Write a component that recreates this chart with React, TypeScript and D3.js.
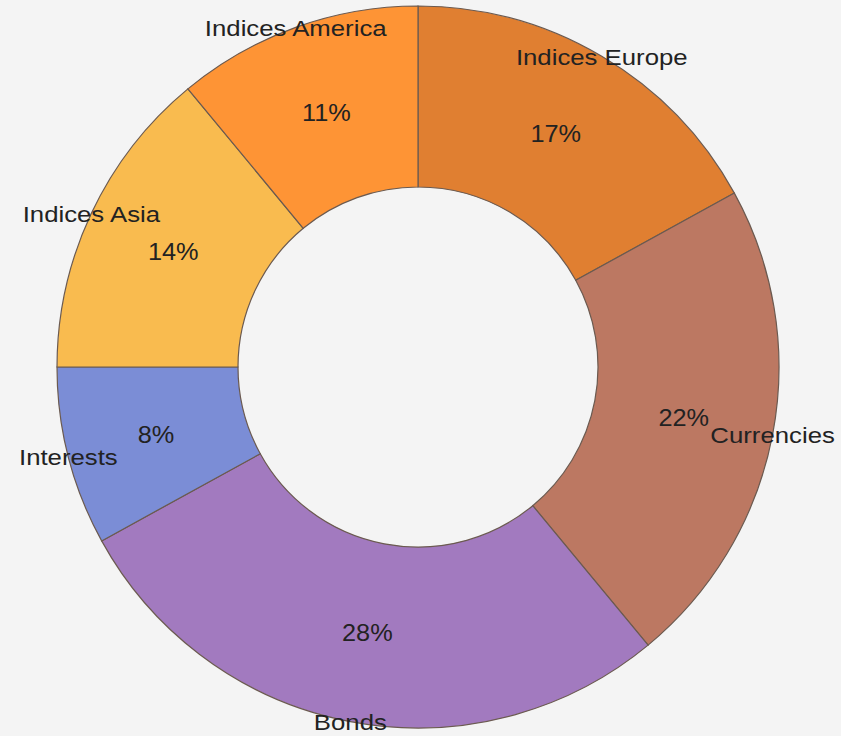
import React, { useEffect, useRef } from "react";
import * as d3 from "d3";

// slices, clockwise from 12 o'clock
const categories = ["Indices Europe", "Currencies", "Bonds", "Interests", "Indices Asia", "Indices America"];
const shares = [17, 22, 28, 8, 14, 11];
const colors = ["#E07F31", "#BC7862", "#A27ABF", "#7B8DD6", "#F9BB4F", "#FE9435"];

interface Slice {
  key: string;
  value: number;
}

const data: Slice[] = categories.map((key, i) => ({ key, value: shares[i] }));

const width = 841;
const height = 736;
const cx = 418;
const cy = 367;
const outerRadius = 361;
const innerRadius = 180;

export default function App(): React.ReactElement {
  const ref = useRef<SVGSVGElement | null>(null);

  useEffect(() => {
    const svg = d3.select(ref.current);
    svg.selectAll("*").remove();

    svg.append("rect").attr("width", width).attr("height", height).attr("fill", "#F4F4F4");

    const pie = d3
      .pie<Slice>()
      .sort(null)
      .value((d) => d.value);

    const arc = d3.arc<d3.PieArcDatum<Slice>>().innerRadius(innerRadius).outerRadius(outerRadius);
    const labelArc = d3.arc<d3.PieArcDatum<Slice>>().innerRadius(outerRadius).outerRadius(outerRadius);

    const color = d3.scaleOrdinal<string>().domain(categories).range(colors);

    const g = svg.append("g").attr("transform", `translate(${cx},${cy})`);
    const arcs = pie(data);

    g.selectAll("path")
      .data(arcs)
      .join("path")
      .attr("d", arc)
      .attr("fill", (d) => color(d.data.key))
      .attr("stroke", "#6b5a50")
      .attr("stroke-width", 1.2);

    const font = "'Liberation Sans', Arial, sans-serif";

    // the source text renders a little wider than Arial, stretch it slightly
    g.selectAll("text.pct")
      .data(arcs)
      .join("text")
      .attr("class", "pct")
      .attr("transform", (d) => `translate(${arc.centroid(d)}) scale(1.1,1)`)
      .attr("text-anchor", "middle")
      .attr("dy", "0.36em")
      .attr("font-family", font)
      .attr("font-size", 23)
      .attr("fill", "#222")
      .text((d) => `${d.data.value}%`);

    g.selectAll("text.cat")
      .data(arcs)
      .join("text")
      .attr("class", "cat")
      .attr("transform", (d) => `translate(${labelArc.centroid(d)}) scale(1.12,1)`)
      .attr("text-anchor", "middle")
      .attr("dy", "0.36em")
      .attr("font-family", font)
      .attr("font-size", 23)
      .attr("fill", "#222")
      .text((d) => d.data.key);
  }, []);

  return (
    <div style={{ position: "fixed", left: 0, top: 0, width, height, background: "#F4F4F4" }}>
      <svg ref={ref} width={width} height={height} style={{ display: "block" }}></svg>
    </div>
  );
}
